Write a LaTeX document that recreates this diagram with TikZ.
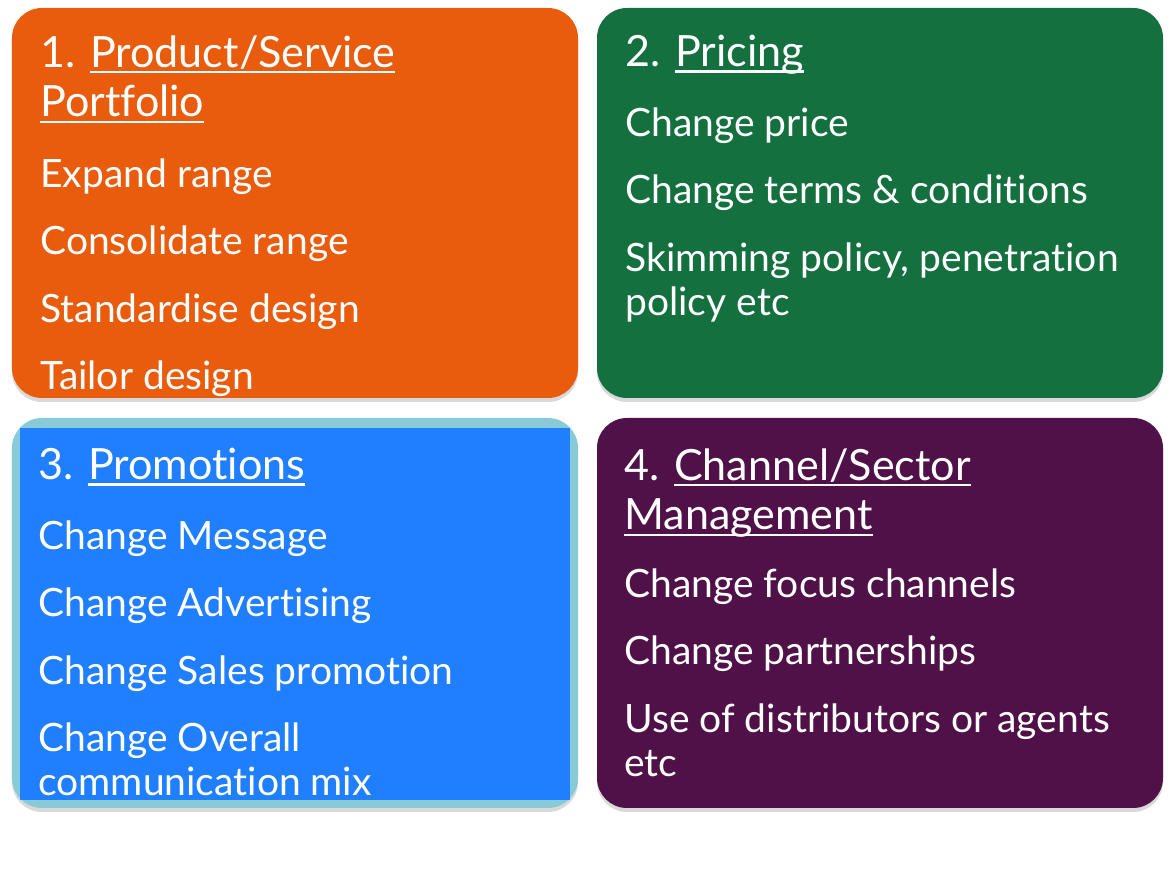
\documentclass[tikz,border=0pt]{standalone}
\usepackage{fontspec}
\setmainfont{Lato}[Ligatures=NoCommon]
\usetikzlibrary{positioning, shadows}

\definecolor{portfolioorange}{RGB}{233,92,14}
\definecolor{pricinggreen}{RGB}{20,112,62}
\definecolor{promoblue}{RGB}{31,127,255}
\definecolor{promorim}{RGB}{136,202,214}
\definecolor{channelpurple}{RGB}{79,17,71}

\newsavebox{\ulwordbox}
\newcommand{\ulword}[1]{\sbox{\ulwordbox}{#1}\rlap{\rule[-0.14em]{\wd\ulwordbox}{1.3pt}}\usebox{\ulwordbox}}
\newcommand{\titlefont}{\fontsize{24.5}{28.3}\selectfont}
\newcommand{\itemfont}{\fontsize{22.2}{25}\selectfont}
\newcommand{\itemgap}{\\[13.3pt]}

\begin{document}
\begin{tikzpicture}[
  quadrant/.style={rounded corners=0.6cm, minimum width=11.32cm, minimum height=7.8cm, drop shadow={opacity=0.3, shadow xshift=0cm, shadow yshift=-0.08cm}},
  heading/.style={anchor=north west, inner sep=0pt, align=left, text=white, font=\titlefont},
  points/.style={anchor=north west, inner sep=0pt, align=left, text=white, font=\itemfont}
]
\useasboundingbox (0,0) rectangle (23.5,17.7);

% the four quadrants
\node[quadrant, fill=portfolioorange] (portfolio) at (5.9,13.64) {};
\node[quadrant, fill=pricinggreen] (pricing) at (17.6,13.64) {};
\node[quadrant, fill=promorim] (promotions) at (5.9,5.44) {};
\node[fill=promoblue, minimum width=11cm, minimum height=7.44cm, inner sep=0pt] (promoinner) at (5.9,5.42) {};
\node[quadrant, fill=channelpurple] (channel) at (17.6,5.44) {};

% 1. Product/Service Portfolio
\node[heading] (portfoliotitle) at (0.8,17.0) {1. \ulword{Product/Service}\\ \ulword{Portfolio}};
\node[points] (portfoliolist) at (0.8,14.53) {Expand range\itemgap Consolidate range\itemgap Standardise design\itemgap Tailor design};

% 2. Pricing
\node[heading] (pricingtitle) at (12.5,17.0) {2. \ulword{Pricing}};
\node[points] (pricinglist) at (12.5,15.55) {Change price\itemgap Change terms \& conditions\itemgap Skimming policy, penetration\\ policy etc};

% 3. Promotions
\node[heading] (promotitle) at (0.76,8.74) {3. \ulword{Promotions}};
\node[points] (promolist) at (0.76,7.29) {Change Message\itemgap Change Advertising\itemgap Change Sales promotion\itemgap Change Overall\\ communication mix};

% 4. Channel/Sector Management
\node[heading] (channeltitle) at (12.48,8.74) {4. \ulword{Channel/Sector}\\ \ulword{Management}};
\node[points] (channellist) at (12.48,6.33) {Change focus channels\itemgap Change partnerships\itemgap Use of distributors or agents\\ etc};

\end{tikzpicture}
\end{document}
